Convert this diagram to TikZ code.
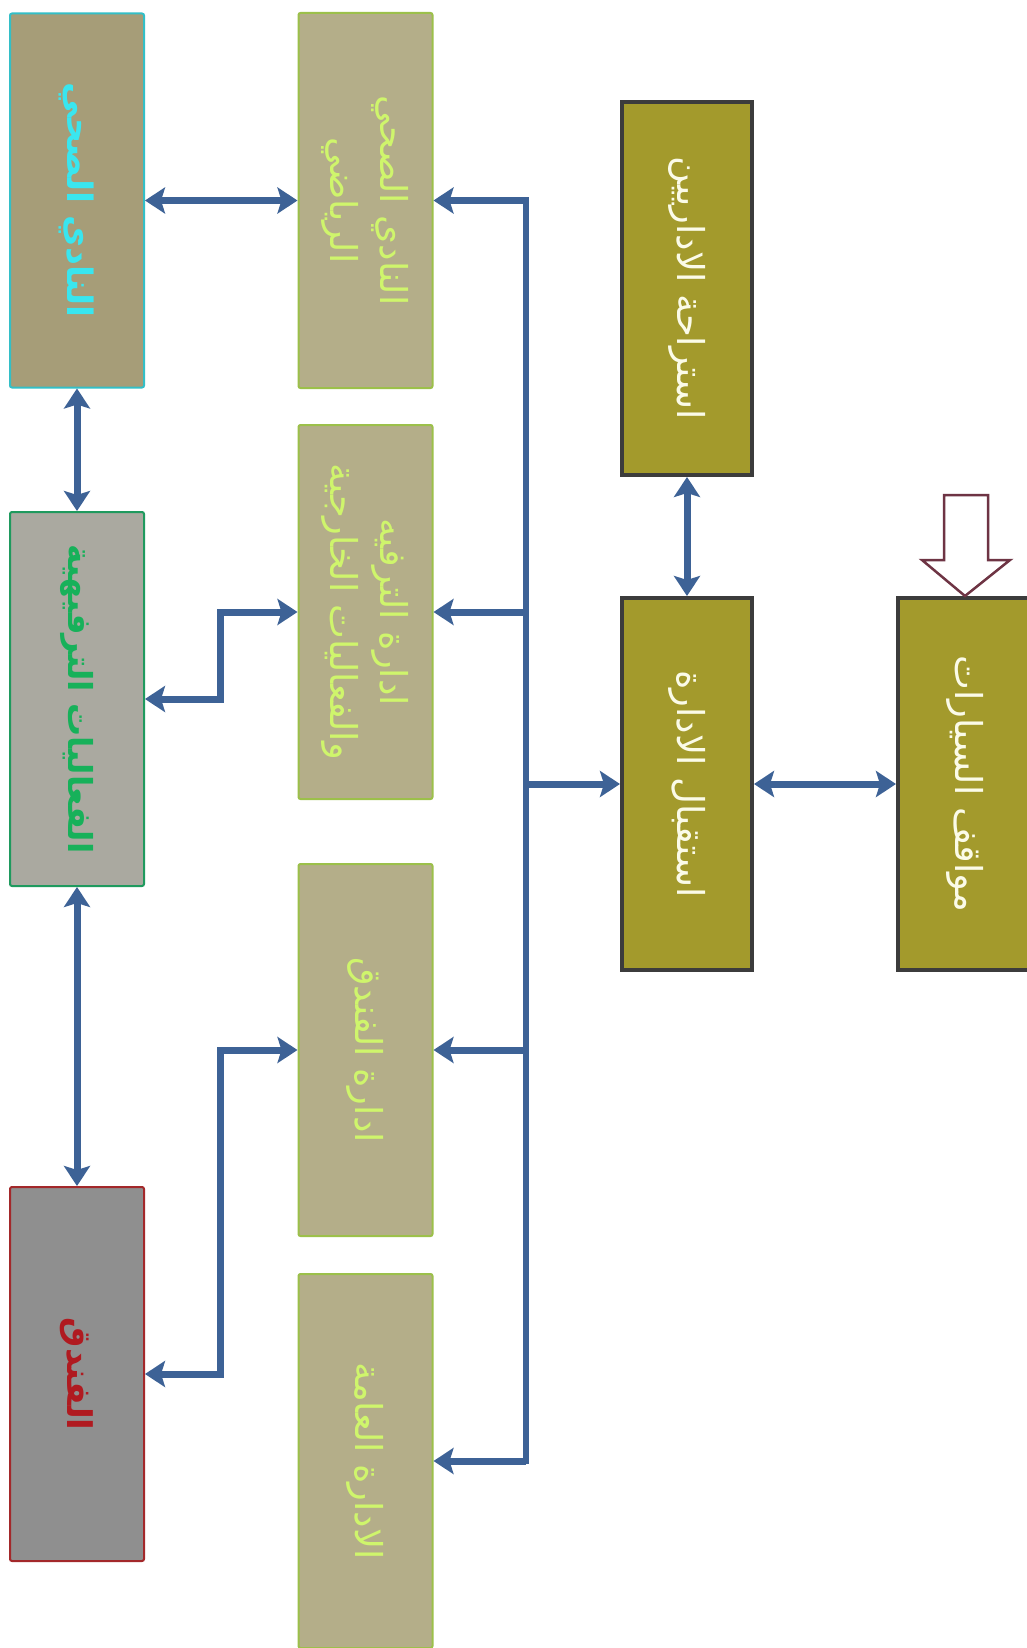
\documentclass[tikz,border=0pt]{standalone}
\usepackage{fontspec}
\usepackage{graphicx}
\usetikzlibrary{arrows.meta}
\TeXXeTstate=1
\newfontfamily\arabicfont[Script=Arabic]{DejaVu Sans}
\definecolor{fillA}{HTML}{A69D78}
\definecolor{lineA}{HTML}{33BFC7}
\definecolor{textA}{HTML}{39E6EF}
\definecolor{fillB}{HTML}{AAA9A0}
\definecolor{lineB}{HTML}{1F9A5E}
\definecolor{textB}{HTML}{17B15A}
\definecolor{fillH}{HTML}{8F8F8F}
\definecolor{lineH}{HTML}{A3282A}
\definecolor{textH}{HTML}{B01A20}
\definecolor{fillK}{HTML}{B4AE89}
\definecolor{lineK}{HTML}{9CC04A}
\definecolor{textK}{HTML}{CFF56C}
\definecolor{fillO}{HTML}{A39A2C}
\definecolor{lineO}{HTML}{3C3C3C}
\definecolor{textO}{HTML}{FBFBE8}
\definecolor{arr}{HTML}{3D6296}
\definecolor{hollow}{HTML}{6E3444}
\newcommand{\vtxt}[1]{\rotatebox[origin=c]{-90}{#1}}
\newcommand{\artxt}[1]{\beginR #1\endR}
\tikzset{
  basebox/.style={rectangle, inner sep=0pt, minimum width=134pt, minimum height=374pt},
  clubbox/.style={basebox, rounded corners=2pt, fill=fillA, draw=lineA, line width=2pt, text=textA,
     font=\arabicfont\bfseries\fontsize{35}{44}\selectfont},
  funbox/.style={basebox, rounded corners=2pt, fill=fillB, draw=lineB, line width=2pt, text=textB,
     font=\arabicfont\bfseries\fontsize{33}{42}\selectfont},
  hotelbox/.style={basebox, rounded corners=2pt, fill=fillH, draw=lineH, line width=2pt, text=textH,
     font=\arabicfont\bfseries\fontsize{34}{42}\selectfont},
  khakibox/.style={basebox, rounded corners=2pt, fill=fillK, draw=lineK, line width=2pt, text=textK,
     font=\arabicfont\fontsize{37}{50}\selectfont},
  olivebox/.style={basebox, minimum width=130pt, minimum height=370pt, fill=fillO, draw=lineO, line width=4pt, text=textO,
     font=\arabicfont\fontsize{37}{46}\selectfont},
  link/.style={draw=arr, line width=7pt},
  tip/.style={-{Stealth[length=20pt,width=26pt,inset=4pt]}},
  tips/.style={{Stealth[length=20pt,width=26pt,inset=4pt]}-{Stealth[length=20pt,width=26pt,inset=4pt]}},
}
\begin{document}
\begin{tikzpicture}[x=1pt,y=-1pt]
\useasboundingbox[fill=white] (0,0) rectangle (1027,1648);
% column A
\node[clubbox] (A1) at (77,200.5) {\vtxt{\artxt{النادي الصحي}}};
\node[funbox] (A2) at (77,699) {\vtxt{\artxt{الفعاليات الترفيهية}}};
\node[hotelbox] (A3) at (77,1374) {\vtxt{\artxt{الفندق}}};
% column B
\node[khakibox, minimum height=375pt] (B1) at (365.5,200.5) {\vtxt{\begin{tabular}{@{}c@{}}\artxt{النادي الصحي}\\\artxt{الرياضي}\end{tabular}}};
\node[khakibox] (B2) at (365.5,612) {\vtxt{\begin{tabular}{@{}c@{}}\artxt{ادارة الترفيه}\\\artxt{والفعاليات الخارجية}\end{tabular}}};
\node[khakibox, minimum height=372pt] (B3) at (365.5,1050) {\vtxt{\artxt{ادارة الفندق}}};
\node[khakibox] (B4) at (365.5,1461) {\vtxt{\artxt{الادارة العامة}}};
% column C, D
\node[olivebox, minimum height=373pt] (C1) at (687,288.5) {\vtxt{\artxt{استراحة الاداريين}}};
\node[olivebox, minimum height=372pt] (C2) at (687,784) {\vtxt{\artxt{استقبال الادارة}}};
\node[olivebox, minimum width=134pt, minimum height=372pt] (D) at (965,784) {\vtxt{\artxt{مواقف السيارات}}};
% trunk
\coordinate (T) at (526,0);
\draw[link, line width=6pt, line cap=rect] (T |- B1.east) -- (T |- B4.east);
\draw[link, tip] (T |- B1.east) -- (B1.east);
\draw[link, tip] (T |- B2.east) -- (B2.east);
\draw[link, tip] (T |- B3.east) -- (B3.east);
\draw[link, tip] (T |- B4.east) -- (B4.east);
\draw[link, tip] (T |- C2.west) -- (C2.west);
% other links
\draw[link, tips] (C2.east) -- (D.west);
\draw[link, tips] (C1.south) -- (C2.north);
\draw[link, tips] (A1.east) -- (B1.west);
\draw[link, tips] (A1.south) -- (A2.north);
\draw[link, tips] (A2.south) -- (A3.north);
\draw[link, tips] (B2.west) -- ++(-77,0) |- (A2.east);
\draw[link, tips] (B3.west) -- ++(-77,0) |- (A3.east);
% hollow arrow into parking
\draw[draw=hollow, fill=white, line width=2.5pt, line join=miter]
  (D.north) -- (1010,560) -- (988,560) -- (988,495) -- (944,495) -- (944,560) -- (922,560) -- cycle;
\end{tikzpicture}
\end{document}
